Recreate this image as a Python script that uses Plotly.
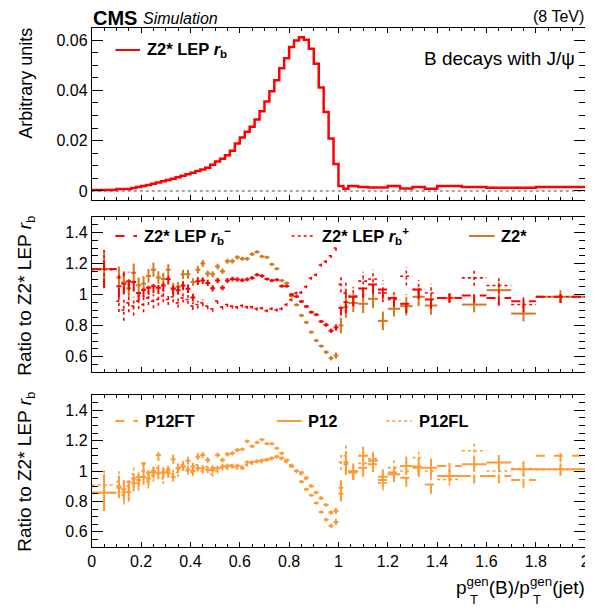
import plotly.graph_objects as go

W, H = 593, 612
OFF = 8  # the page body keeps its default 8px margin
FONT = "Liberation Sans"

# binning in pT(B)/pT(jet)
fine_edges = [round(0.1 + 0.02 * i, 2) for i in range(46)]
edges = [0.0] + fine_edges + [1.02, 1.04, 1.08, 1.12, 1.16, 1.2, 1.25, 1.3,
                              1.35, 1.4, 1.5, 1.6, 1.7, 1.8, 2.0]

# top pad: Z2* LEP rb distribution (arbitrary units)
z2lep_rb = [0.0004,
            0.0008, 0.0008, 0.0008, 0.0012, 0.0016, 0.0020, 0.0024, 0.0029, 0.0034, 0.0039,
            0.0044, 0.0049, 0.0054, 0.0060, 0.0066, 0.0072, 0.0079, 0.0085, 0.0092, 0.0104,
            0.0117, 0.0128, 0.0142, 0.0160, 0.0189, 0.0213, 0.0235, 0.0255, 0.0284, 0.0317,
            0.0356, 0.0396, 0.0440, 0.0488, 0.0528, 0.0572, 0.0598, 0.0611, 0.0601, 0.0565,
            0.0506, 0.0411, 0.0314, 0.0209, 0.0107,
            0.0020, 0.0009, 0.0020, 0.0016, 0.0014, 0.0014, 0.0020, 0.0010, 0.0016, 0.0009,
            0.0020, 0.0016, 0.0013, 0.0013, 0.0016]

# middle pad: ratios to Z2* LEP rb
rb_minus = [1.165,
            1.054, 1.07, 1.086, 1.08, 1.01, 1.03, 1.043, 1.054, 1.043, 1.058,
            1.10, 1.037, 1.028, 1.058, 1.037, 0.98, 1.086, 1.09, 1.075, 1.04,
            1.09, 1.043, 1.09, 1.10, 1.097, 1.092, 1.097, 1.107, 1.127, 1.12,
            1.10, 1.09, 1.095, 1.054, 1.054, 1.0, 0.987, 0.955, 0.923, 0.886,
            0.87, 0.826, 0.804, 0.766, 0.787,
            0.914, 0.95, 0.985, 1.039, 1.065, 1.032, 0.978, 0.94, 1.032, 0.968,
            0.978, 0.994, 0.978, 0.957, 0.985]
rb_plus = [1.16,
           0.957, 0.90, 0.946, 0.925, 0.957, 0.935, 0.978, 0.957, 0.968, 0.99,
           0.968, 0.985, 0.946, 0.978, 0.968, 0.925, 0.935, 0.946, 0.925, 0.908,
           0.957, 0.92, 0.935, 0.925, 0.92, 0.929, 0.92, 0.92, 0.908, 0.912,
           0.895, 0.908, 0.90, 0.908, 0.935, 0.966, 1.01, 1.013, 1.05, 1.105,
           1.127, 1.19, 1.213, 1.25, 1.30,
           1.065, 1.01, 0.99, 1.086, 1.10, 1.01, 0.968, 1.118, 1.032, 1.01,
           0.978, 1.107, 1.058, 0.935, 0.985]
z2star = [1.165,
          1.11, 1.08, 1.04, 1.14, 1.06, 1.07, 1.12, 1.16, 1.11, 1.10,
          1.16, 1.04, 1.05, 1.13, 1.13, 1.08, 1.16, 1.20, 1.135, 1.13,
          1.18, 1.15, 1.215, 1.215, 1.24, 1.23, 1.23, 1.26, 1.275, 1.245,
          1.24, 1.195, 1.166, 1.09, 1.073, 0.99, 0.933, 0.865, 0.82, 0.757,
          0.703, 0.667, 0.628, 0.589, 0.606,
          0.80, 0.92, 0.946, 0.94, 0.972, 0.83, 0.908, 0.925, 0.985, 0.929,
          0.978, 0.935, 1.028, 0.877, 0.985]
err_mid = [0.12,
           0.07, 0.07, 0.06, 0.06, 0.05, 0.05, 0.045, 0.045, 0.04, 0.04,
           0.035, 0.035, 0.03, 0.03, 0.028, 0.025, 0.025, 0.022, 0.02, 0.02,
           0.018, 0.017, 0.016, 0.015, 0.014, 0.013, 0.012, 0.012, 0.011, 0.011,
           0.01, 0.01, 0.01, 0.01, 0.01, 0.01, 0.01, 0.01, 0.01, 0.01,
           0.01, 0.01, 0.012, 0.014, 0.02,
           0.05, 0.07, 0.06, 0.06, 0.06, 0.06, 0.05, 0.06, 0.06, 0.06,
           0.03, 0.05, 0.05, 0.05, 0.04]

# bottom pad: P12 tunes
p12ft = [0.857,
         0.89, 0.86, 0.93, 0.95, 0.96, 1.05, 0.99, 1.00, 1.105, 0.99,
         1.01, 1.077, 1.02, 1.03, 1.068, 1.03, 1.094, 1.105, 1.072, 1.02,
         1.105, 1.072, 1.11, 1.116, 1.138, 1.143, 1.195, 1.163, 1.188, 1.207,
         1.18, 1.18, 1.15, 1.116, 1.07, 1.03, 1.0, 0.93, 0.88, 0.84,
         0.79, 0.73, 0.68, 0.64, 0.665,
         0.85, 1.06, 0.99, 1.022, 1.044, 0.94, 0.99, 0.956, 1.03, 0.911,
         1.033, 0.967, 0.967, 0.94, 1.1]
p12 = [0.857,
       0.90, 0.88, 0.86, 0.92, 0.94, 0.96, 0.95, 0.99, 0.985, 0.99,
       0.99, 0.96, 1.018, 1.03, 1.01, 1.0, 1.018, 1.018, 1.007, 1.007,
       1.018, 1.03, 1.033, 1.03, 1.035, 1.018, 1.057, 1.06, 1.065, 1.07,
       1.075, 1.085, 1.095, 1.085, 1.07, 1.035, 1.0, 0.99, 0.955, 0.90,
       0.857, 0.82, 0.777, 0.727, 0.737,
       0.889, 1.044, 1.0, 1.10, 1.067, 0.962, 0.978, 1.033, 1.022, 1.022,
       0.967, 1.044, 1.056, 1.011, 1.011]
p12fl = [0.908,
         0.93, 0.84, 0.90, 0.98, 0.92, 1.0, 0.93, 0.97, 1.02, 0.95,
         1.0, 0.98, 0.99, 1.04, 1.0, 0.99, 1.04, 1.0, 1.03, 0.98,
         1.0, 1.02, 1.02, 1.04, 1.02, 1.03, 1.04, 1.05, 1.06, 1.06,
         1.07, 1.08, 1.09, 1.08, 1.06, 1.04, 1.0, 0.98, 0.95, 0.905,
         0.86, 0.825, 0.78, 0.73, 0.74,
         1.056, 1.1, 0.99, 1.05, 1.08, 0.922, 1.022, 1.0, 1.089, 1.0,
         0.944, 1.133, 1.0, 1.016, 1.011]
err_bot = [0.12,
           0.07, 0.06, 0.06, 0.055, 0.05, 0.05, 0.045, 0.04, 0.04, 0.035,
           0.035, 0.03, 0.03, 0.028, 0.025, 0.025, 0.022, 0.02, 0.02, 0.018,
           0.017, 0.016, 0.015, 0.014, 0.013, 0.012, 0.012, 0.011, 0.011, 0.01,
           0.01, 0.01, 0.01, 0.01, 0.01, 0.01, 0.01, 0.01, 0.01, 0.01,
           0.01, 0.01, 0.012, 0.014, 0.02,
           0.05, 0.07, 0.05, 0.06, 0.05, 0.05, 0.05, 0.06, 0.06, 0.06,
           0.04, 0.05, 0.05, 0.05, 0.04]

RED = "#ff0000"
DARK_ORANGE = "#d2781e"
ORANGE = "#ff9933"


def px(x):
    return (x - OFF) / W


def py(y):
    return 1 - (y - OFF) / H


def crosses(vals, errs):
    # ROOT style error crosses: bin width horizontally, error vertically
    xs, ys = [], []
    for lo, hi, v, e in zip(edges[:-1], edges[1:], vals, errs):
        c = 0.5 * (lo + hi)
        xs += [lo, hi, None, c, c, None]
        ys += [v, v, None, v - e, v + e, None]
    return xs, ys


fig = go.Figure()

fig.add_trace(go.Scatter(x=edges, y=z2lep_rb + [z2lep_rb[-1]], mode="lines",
                         line=dict(color=RED, width=2.5, shape="hv"),
                         xaxis="x", yaxis="y", showlegend=False))

mid = [(z2star, DARK_ORANGE, "solid", 2), (rb_plus, RED, "dot", 1.6), (rb_minus, RED, "dash", 2)]
for vals, col, dash, w in mid:
    xs, ys = crosses(vals, err_mid)
    fig.add_trace(go.Scatter(x=xs, y=ys, mode="lines", line=dict(color=col, width=w, dash=dash),
                             xaxis="x2", yaxis="y2", showlegend=False))

bot = [(p12fl, "dot", 1.6), (p12, "solid", 2), (p12ft, "dash", 2)]
for vals, dash, w in bot:
    xs, ys = crosses(vals, err_bot)
    fig.add_trace(go.Scatter(x=xs, y=ys, mode="lines", line=dict(color=ORANGE, width=w, dash=dash),
                             xaxis="x3", yaxis="y3", showlegend=False))

tickfont = dict(family=FONT, size=16, color="black")
xbase = dict(range=[0, 2], tick0=0, dtick=0.2, ticks="inside", ticklen=5, tickcolor="black",
             mirror="ticks", showline=True, linecolor="black", linewidth=1,
             showgrid=False, zeroline=False, domain=[px(89), px(590)], tickfont=tickfont,
             minor=dict(dtick=0.05, ticks="inside", ticklen=3, tickcolor="black"))
ybase = dict(ticks="inside", ticklen=11, tickcolor="black", mirror="ticks", showline=True,
             linecolor="black", linewidth=1, showgrid=False, zeroline=False, tickfont=tickfont)


def dom(top, bottom):
    return [py(bottom), py(top)]


fig.update_layout(
    width=W, height=H, margin=dict(l=0, r=0, t=0, b=0),
    paper_bgcolor="white", plot_bgcolor="white",
    font=dict(family=FONT, color="black"),
    xaxis=dict(xbase, anchor="y", showticklabels=False),
    yaxis=dict(ybase, anchor="x", domain=dom(28, 200), range=[-0.0036, 0.0648], tick0=0, dtick=0.02,
               minor=dict(dtick=0.005, ticks="inside", ticklen=6, tickcolor="black")),
    xaxis2=dict(xbase, anchor="y2", matches="x", showticklabels=False),
    yaxis2=dict(ybase, anchor="x2", domain=dom(217, 372), range=[0.5, 1.5], tick0=0, dtick=0.2,
                minor=dict(dtick=0.05, ticks="inside", ticklen=6, tickcolor="black")),
    xaxis3=dict(xbase, anchor="y3", matches="x"),
    yaxis3=dict(ybase, anchor="x3", domain=dom(395, 547), range=[0.5, 1.5], tick0=0, dtick=0.2,
                minor=dict(dtick=0.05, ticks="inside", ticklen=6, tickcolor="black")),
)

# dotted zero line in the top pad
fig.add_shape(type="line", xref="x domain", yref="y", x0=0, x1=1, y0=0, y1=0,
              line=dict(color="#888888", width=1.5, dash="dot"), layer="below")


def text(x, y, s, size, xanchor="left", angle=0):
    fig.add_annotation(x=px(x), y=py(y), xref="paper", yref="paper", text=s, showarrow=False,
                       xanchor=xanchor, yanchor="middle", textangle=angle, borderpad=0,
                       font=dict(family=FONT, size=size, color="black"))


def legend_entry(x0, x1, y, color, dash, label, width=2):
    fig.add_shape(type="line", xref="paper", yref="paper", x0=px(x0), x1=px(x1),
                  y0=py(y), y1=py(y), line=dict(color=color, width=width, dash=dash))
    text(x1 + 6, y, "<b>" + label + "</b>", 16.5)


text(89, 18, "<b>CMS</b>", 20)
text(140, 18, "<i>Simulation</i>", 16)
text(590, 17, "(8 TeV)", 16, xanchor="right")
text(581, 58, "B decays with J/ψ", 19, xanchor="right")

text(22, 83, "Arbitrary units", 18, xanchor="center", angle=-90)
text(22, 296, "Ratio to Z2* LEP <i>r</i><sub>b</sub>", 19, xanchor="center", angle=-90)
text(22, 472, "Ratio to Z2* LEP <i>r</i><sub>b</sub>", 19, xanchor="center", angle=-90)

# x title: ROOT stacks "gen" above "T", so the subscripts are set separately
text(591, 586, "p<sup>gen</sup>(B)/p<sup>gen</sup>(jet)", 19, xanchor="right")
text(472, 599, "T", 13)
text(536, 599, "T", 13)

legend_entry(113, 138, 50, RED, "solid", "Z2* LEP <i>r</i><sub>b</sub>")
legend_entry(113, 135, 236, RED, "dash", "Z2* LEP <i>r</i><sub>b</sub><sup>−</sup>")
legend_entry(292, 316, 236, RED, "dot", "Z2* LEP <i>r</i><sub>b</sub><sup>+</sup>", 1.6)
legend_entry(472, 498, 236, DARK_ORANGE, "solid", "Z2*")
legend_entry(113, 136, 421, ORANGE, "dash", "P12FT")
legend_entry(277, 302, 421, ORANGE, "solid", "P12")
legend_entry(388, 414, 421, ORANGE, "dot", "P12FL", 1.6)

fig.write_html("out.html")
